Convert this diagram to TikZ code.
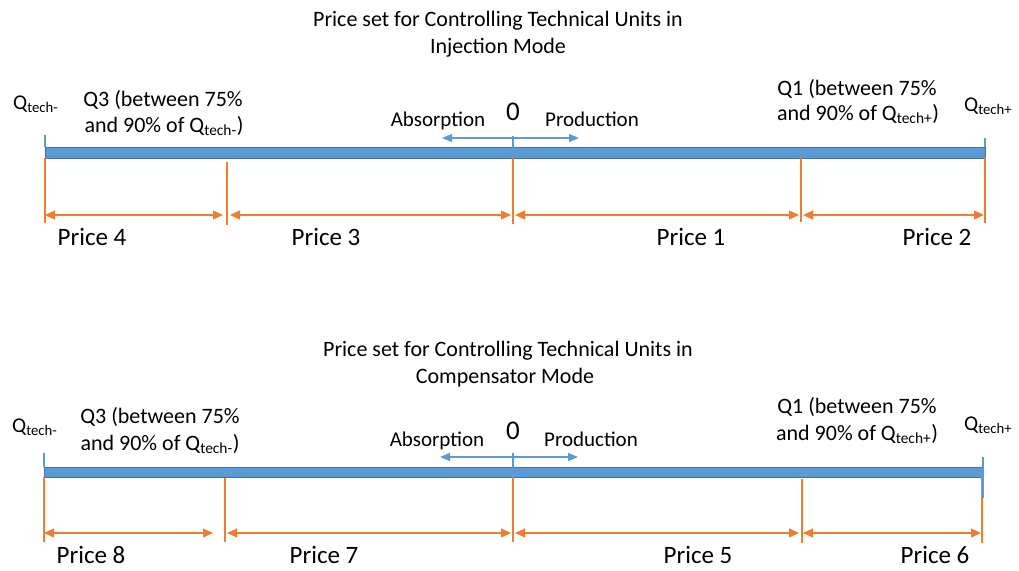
\documentclass[tikz,border=0pt]{standalone}
\usepackage{fontspec}
\setmainfont{Carlito}
\usetikzlibrary{arrows.meta}
\definecolor{barblue}{HTML}{5B9BD5}
\definecolor{bardark}{HTML}{41719C}
\definecolor{orng}{HTML}{ED7D31}
\newcommand\myfs[1]{\fontsize{#1}{#1}\selectfont}
\newcommand\qt[1]{Q\textsubscript{tech#1}}
\begin{document}
\begin{tikzpicture}[x=1pt,y=-1pt,
  lbl/.style={inner sep=0pt, anchor=base},
  lblw/.style={inner sep=0pt, anchor=base west},
  titlefont/.style={font=\myfs{22}},
  qfont/.style={font=\myfs{22}},
  qtfont/.style={font=\myfs{21}},
  pricefont/.style={font=\myfs{25}},
  zerofont/.style={font=\myfs{27}},
  dirfont/.style={font=\myfs{21}},
  bar/.style={fill=barblue, draw=bardark, line width=1pt},
  btick/.style={draw=barblue, line width=1.3pt},
  otick/.style={draw=orng, line width=1.3pt},
  oarr/.style={draw=orng, line width=1.3pt, {Triangle[length=10pt,width=9pt]}-{Triangle[length=10pt,width=9pt]}},
  barr/.style={draw=barblue, line width=1.3pt, {Triangle[length=10pt,width=8pt]}-{Triangle[length=10pt,width=8pt]}}]
\useasboundingbox (0,0) rectangle (1019,570);

% ================= TOP PANEL =================
\node[lbl,titlefont] (t1a) at (498,27) {Price set for Controlling Technical Units in};
\node[lbl,titlefont] (t1b) at (498,53) {Injection Mode};

\node[lblw,qtfont] (qm1) at (13,109) {\qt{-}};
\node[lbl,qfont] (q3a1) at (163,106) {Q3 (between 75\%};
\node[lbl,qfont] (q3b1) at (164,132) {and 90\% of \qt{-})};
\node[lbl,qfont] (q1a1) at (857,95) {Q1 (between 75\%};
\node[lbl,qfont] (q1b1) at (858,120) {and 90\% of \qt{+})};
\node[lblw,qtfont] (qp1) at (964,111) {\qt{+}};

\node[lbl,zerofont] (z1) at (513,120) {0};
\node[lbl,dirfont] (ab1) at (438,126) {Absorption};
\node[lbl,dirfont] (pr1) at (592,126) {Production};

\path[bar] (45,147) rectangle (985,158);
\coordinate (a1L) at (442,138); \coordinate (a1R) at (579,138);
\draw[barr] (a1L) -- (a1R);
\coordinate (bt1La) at (45,135); \coordinate (bt1Lb) at (45,147);
\coordinate (bt1Ra) at (985,138); \coordinate (bt1Rb) at (985,147);
\coordinate (bt1Ca) at (513,136); \coordinate (bt1Cb) at (513,158);
\draw[btick] (bt1La) -- (bt1Lb);
\draw[btick] (bt1Ra) -- (bt1Rb);
\draw[btick] (bt1Ca) -- (bt1Cb);

\coordinate (v1a) at (45,158);  \coordinate (v1b) at (45,223);
\coordinate (v2a) at (227,162); \coordinate (v2b) at (227,225);
\coordinate (v3a) at (513,158); \coordinate (v3b) at (513,224);
\coordinate (v4a) at (801,158); \coordinate (v4b) at (801,222);
\coordinate (v5a) at (985,158); \coordinate (v5b) at (985,223);
\draw[otick] (v1a) -- (v1b);
\draw[otick] (v2a) -- (v2b);
\draw[otick] (v3a) -- (v3b);
\draw[otick] (v4a) -- (v4b);
\draw[otick] (v5a) -- (v5b);

\coordinate (r1a) at (45,215);  \coordinate (r1b) at (223,215);
\coordinate (r2a) at (230,215); \coordinate (r2b) at (511,215);
\coordinate (r3a) at (515,215); \coordinate (r3b) at (799,215);
\coordinate (r4a) at (803,215); \coordinate (r4b) at (984,215);
\draw[oarr] (r1a) -- (r1b);
\draw[oarr] (r2a) -- (r2b);
\draw[oarr] (r3a) -- (r3b);
\draw[oarr] (r4a) -- (r4b);

\node[lbl,pricefont] (p4) at (92,245) {Price 4};
\node[lbl,pricefont] (p3) at (326,245) {Price 3};
\node[lbl,pricefont] (p1) at (691,245) {Price 1};
\node[lbl,pricefont] (p2) at (937,245) {Price 2};

% ================= BOTTOM PANEL =================
\node[lbl,titlefont] (t2a) at (508,356) {Price set for Controlling Technical Units in};
\node[lbl,titlefont] (t2b) at (505,383) {Compensator Mode};

\node[lblw,qtfont] (qm2) at (12,432) {\qt{-}};
\node[lbl,qfont] (q3a2) at (160,423) {Q3 (between 75\%};
\node[lbl,qfont] (q3b2) at (160,450) {and 90\% of \qt{-})};
\node[lbl,qfont] (q1a2) at (857,413) {Q1 (between 75\%};
\node[lbl,qfont] (q1b2) at (857,440) {and 90\% of \qt{+})};
\node[lblw,qtfont] (qp2) at (964,430) {\qt{+}};

\node[lbl,zerofont] (z2) at (513,439) {0};
\node[lbl,dirfont] (ab2) at (437,446) {Absorption};
\node[lbl,dirfont] (pr2) at (591,446) {Production};

\path[bar] (44,467) rectangle (983,477);
\coordinate (a2L) at (440,457); \coordinate (a2R) at (578,457);
\draw[barr] (a2L) -- (a2R);
\coordinate (bt2La) at (44,453); \coordinate (bt2Lb) at (44,467);
\coordinate (bt2Ra) at (983,457); \coordinate (bt2Rb) at (983,498);
\coordinate (bt2Ca) at (513,453); \coordinate (bt2Cb) at (513,477);

\coordinate (w1a) at (44,477);  \coordinate (w1b) at (44,542);
\coordinate (w2a) at (225,478); \coordinate (w2b) at (225,542);
\coordinate (w3a) at (513,477); \coordinate (w3b) at (513,542);
\coordinate (w4a) at (802,479); \coordinate (w4b) at (802,543);
\coordinate (w5a) at (982,477); \coordinate (w5b) at (982,543);
\draw[otick] (w1a) -- (w1b);
\draw[otick] (w2a) -- (w2b);
\draw[otick] (w3a) -- (w3b);
\draw[otick] (w4a) -- (w4b);
\draw[otick] (w5a) -- (w5b);

\draw[btick] (bt2La) -- (bt2Lb);
\draw[btick] (bt2Ra) -- (bt2Rb);
\draw[btick] (bt2Ca) -- (bt2Cb);

\coordinate (s1a) at (44,533);  \coordinate (s1b) at (213,533);
\coordinate (s2a) at (227,533); \coordinate (s2b) at (511,533);
\coordinate (s3a) at (515,533); \coordinate (s3b) at (799,533);
\coordinate (s4a) at (803,533); \coordinate (s4b) at (981,533);
\draw[oarr] (s1a) -- (s1b);
\draw[oarr] (s2a) -- (s2b);
\draw[oarr] (s3a) -- (s3b);
\draw[oarr] (s4a) -- (s4b);

\node[lbl,pricefont] (p8) at (91,563) {Price 8};
\node[lbl,pricefont] (p7) at (324,563) {Price 7};
\node[lbl,pricefont] (p5) at (698,563) {Price 5};
\node[lbl,pricefont] (p6) at (935,563) {Price 6};
\end{tikzpicture}
\end{document}
